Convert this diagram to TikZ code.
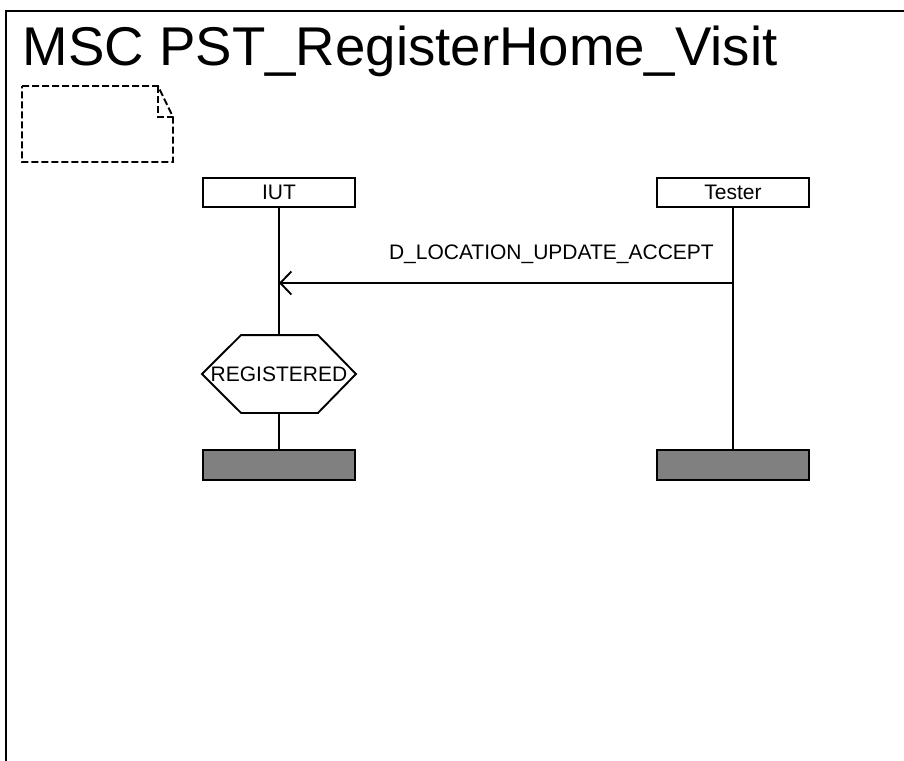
\documentclass[tikz,border=0pt]{standalone}
\usepackage{fontspec}
\setmainfont{Liberation Sans}
\usetikzlibrary{arrows.meta}

\begin{document}
\begin{tikzpicture}[x=1pt,y=-1pt,line width=1.9pt,
                    every node/.style={font=\fontsize{21}{24}\selectfont},
                    instbox/.style={draw,minimum width=152pt,minimum height=29pt,inner sep=0pt},
                    endbox/.style={draw,fill=gray,minimum width=152pt,minimum height=30pt,inner sep=0pt},
                    msgarrow/.style={-{Straight Barb[length=11pt,width=23pt]}},
                    notebox/.style={dash pattern=on 7pt off 3pt}]
                        \useasboundingbox (0,0) rectangle (904,760);
                        \draw (6,770) -- (6,11) -- (914,11);
                        \node (title) [anchor=base west,inner sep=0pt,font=\fontsize{54.6}{60}\selectfont] at (22,65) {MSC PST\_RegisterHome\_Visit};
                        \draw [notebox] (22,86) -- (158,86) -- (173,117) -- (173,162) -- (22,162) -- cycle;
                        \draw [notebox] (158,86) -- (158,117) -- (173,117);
                        \node (iut)       [instbox] at (279,192.5) {IUT};
                        \node (tester)    [instbox] at (733,192.5) {Tester};
                        \node (reg) [minimum width=152pt,minimum height=76pt,inner sep=0pt] at (279,374) {REGISTERED};
                        \node (iutend)    [endbox]  at (279,465) {};
                        \node (testerend) [endbox]  at (733,465) {};
                        \draw (reg.west) -- ([xshift=39pt]reg.north west) -- ([xshift=-38pt]reg.north east) -- (reg.east)
                              -- ([xshift=-38pt]reg.south east) -- ([xshift=39pt]reg.south west) -- cycle;
                        \draw (iut.south) -- (reg.north);
                        \draw (reg.south) -- (iutend.north);
                        \draw (tester.south) -- (testerend.north);
                        \coordinate (msgout) at (733,283);
                        \coordinate (msgin)  at (279,283);
                        \draw [msgarrow] (msgout) -- (msgin)
                              node [pos=0.4,above=24pt,anchor=base,inner sep=0pt] (msglabel) {D\_LOCATION\_UPDATE\_ACCEPT};
                \end{tikzpicture}
\end{document}
